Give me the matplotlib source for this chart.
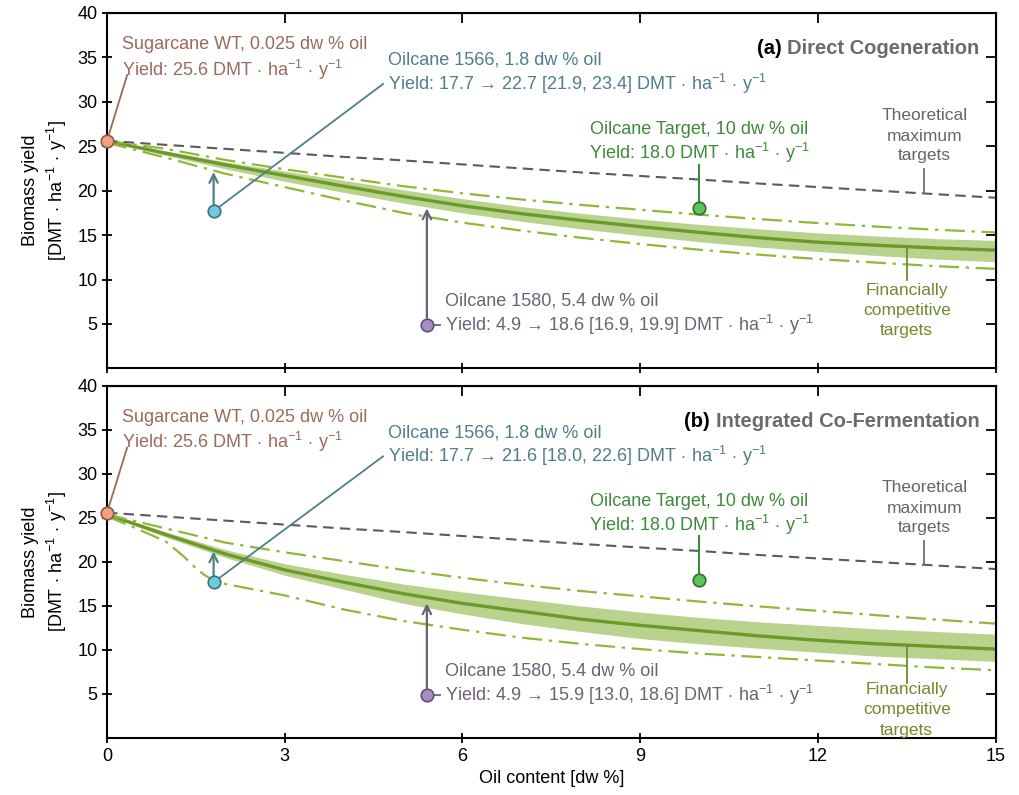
import matplotlib
matplotlib.use("Agg")
import matplotlib.pyplot as plt

plt.rcParams['font.family'] = ['Liberation Sans', 'DejaVu Sans']
plt.rcParams['mathtext.fontset'] = 'custom'
plt.rcParams['mathtext.rm'] = 'Liberation Sans'
plt.rcParams['mathtext.it'] = 'Liberation Sans:italic'
plt.rcParams['mathtext.bf'] = 'Liberation Sans:bold'

# oil content grid [dw %]
oil = [0, 1, 2, 3, 4, 5, 6, 7, 8, 9, 10, 11, 12, 13, 14, 15]

# theoretical maximum (same in both panels)
theo = [25.6, 25.15, 24.7, 24.25, 23.8, 23.4, 22.95, 22.5, 22.05, 21.65, 21.25, 20.8, 20.4, 20.0, 19.6, 19.2]

# (a) direct cogeneration
med_a = [25.6, 24.2, 22.9, 21.7, 20.5, 19.35, 18.3, 17.4, 16.65, 15.95, 15.3, 14.7, 14.2, 13.85, 13.55, 13.3]
band_lo_a = [25.5, 23.95, 22.45, 21.05, 19.8, 18.6, 17.5, 16.55, 15.7, 14.95, 14.25, 13.65, 13.15, 12.7, 12.3, 12.0]
band_hi_a = [25.6, 24.45, 23.25, 22.2, 21.15, 20.1, 19.1, 18.2, 17.45, 16.8, 16.2, 15.7, 15.25, 14.9, 14.6, 14.4]
up_a = [25.6, 24.7, 23.45, 22.4, 21.45, 20.5, 19.7, 19.0, 18.4, 17.85, 17.3, 16.8, 16.35, 15.95, 15.6, 15.3]
lo_a = [25.4, 23.7, 21.9, 20.4, 18.9, 17.5, 16.4, 15.5, 14.7, 14.0, 13.35, 12.8, 12.3, 11.9, 11.5, 11.2]

# (b) integrated co-fermentation
med_b = [25.4, 23.1, 20.9, 19.1, 17.7, 16.4, 15.3, 14.4, 13.5, 12.8, 12.2, 11.6, 11.1, 10.7, 10.4, 10.1]
band_lo_b = [25.3, 22.8, 20.5, 18.5, 16.9, 15.3, 14.1, 13.0, 12.1, 11.3, 10.7, 10.2, 9.75, 9.3, 9.0, 8.7]
band_hi_b = [25.5, 23.4, 21.4, 19.8, 18.6, 17.5, 16.6, 15.8, 15.0, 14.3, 13.7, 13.2, 12.8, 12.4, 12.1, 11.8]
up_b = [25.4, 23.8, 22.2, 21.1, 20.1, 19.1, 18.2, 17.4, 16.7, 16.1, 15.5, 14.95, 14.45, 13.95, 13.45, 13.0]
lo_b_x = [0, 0.5, 1, 1.3, 1.5, 1.65, 1.8, 2.0, 2.5, 3, 4, 5, 6, 7, 8, 9, 10, 11, 12, 13, 14, 15]
lo_b = [25.2, 23.8, 22.3, 20.6, 19.3, 18.5, 17.9, 17.5, 16.85, 16.2, 14.6, 13.3, 12.3, 11.4, 10.7, 10.1, 9.6, 9.2, 8.8, 8.4, 8.0, 7.7]

# points: sugarcane WT, oilcane 1566, oilcane target, oilcane 1580
pt_x = [0, 1.8, 10, 5.4]
pt_y = [25.6, 17.7, 18.0, 4.9]
arrow_top_a = [22.1, 18.0]   # 1566, 1580 improved yields (arrow tips)
arrow_top_b = [21.2, 15.3]

titles = ['Direct Cogeneration', 'Integrated Co-Fermentation']
letters = ['(a)', '(b)']
yield_1566 = ['17.7 \u2192 22.7 [21.9, 23.4]', '17.7 \u2192 21.6 [18.0, 22.6]']
yield_1580 = ['4.9 \u2192 18.6 [16.9, 19.9]', '4.9 \u2192 15.9 [13.0, 18.6]']
fin_label_y = [[8.8, 6.5, 4.3], [5.5, 3.2, 0.9]]
fin_line_bottom = [9.9, 6.3]

UNIT = r'DMT$\,\cdot\,$ha$^{-1}\,\cdot\,$y$^{-1}$'

C_MED = '#6b9a2b'
C_BAND = '#b9d38f'
C_DD = '#8fb83a'
C_THEO = '#5a5a60'
C_SUG = '#9a6a5c'
C_1566 = '#4f7f88'
C_TGT = '#3f8a3a'
C_1580 = '#6e6177'
C_FIN = '#6f8c2c'

fig = plt.figure(figsize=(10.19, 7.95), dpi=100)
ax_a = fig.add_axes([0.105, 0.5366, 0.872, 0.4472])
ax_b = fig.add_axes([0.105, 0.0717, 0.872, 0.4428])

panels = [(ax_a, med_a, band_lo_a, band_hi_a, up_a, oil, lo_a, arrow_top_a),
          (ax_b, med_b, band_lo_b, band_hi_b, up_b, lo_b_x, lo_b, arrow_top_b)]

fs = 13
for i, (ax, med, blo, bhi, up, lox, lo, tops) in enumerate(panels):
    ax.fill_between(oil, blo, bhi, color=C_BAND, lw=0, zorder=1)
    ax.plot(oil, med, color=C_MED, lw=2.4, zorder=2)
    ax.plot(oil, up, color=C_DD, lw=1.6, ls=(0, (9, 3, 1.5, 3)), zorder=2)
    ax.plot(lox, lo, color=C_DD, lw=1.6, ls=(0, (9, 3, 1.5, 3)), zorder=2)
    ax.plot(oil, theo, color=C_THEO, lw=1.5, ls=(0, (5, 3)), zorder=2)

    # improvement arrows
    ax.annotate('', xy=(pt_x[1], tops[0]), xytext=(pt_x[1], pt_y[1]),
                arrowprops=dict(arrowstyle='->', color=C_1566, lw=1.6,
                                shrinkA=5, shrinkB=0, mutation_scale=15), zorder=4)
    ax.annotate('', xy=(pt_x[3], tops[1]), xytext=(pt_x[3], pt_y[3]),
                arrowprops=dict(arrowstyle='->', color=C_1580, lw=1.6,
                                shrinkA=5, shrinkB=0, mutation_scale=15), zorder=4)

    # sugarcane WT
    ax.plot([pt_x[0], 0.34], [pt_y[0], 33.0], color=C_SUG, lw=1.3, zorder=3)
    ax.text(0.25, 36.4, 'Sugarcane WT, 0.025 dw % oil', color=C_SUG, fontsize=fs, va='center')
    ax.text(0.25, 33.6, 'Yield: 25.6 ' + UNIT, color=C_SUG, fontsize=fs, va='center')

    # oilcane 1566
    ax.plot([pt_x[1], 4.66], [pt_y[1], 32.0], color=C_1566, lw=1.3, zorder=3)
    ax.text(4.74, 34.7, 'Oilcane 1566, 1.8 dw % oil', color=C_1566, fontsize=fs, va='center')
    ax.text(4.74, 32.0, 'Yield: ' + yield_1566[i] + ' ' + UNIT, color=C_1566, fontsize=fs, va='center')

    # oilcane target
    ax.plot([pt_x[2], pt_x[2]], [pt_y[2], 22.9], color=C_TGT, lw=1.5, zorder=3)
    ax.text(pt_x[2], 26.9, 'Oilcane Target, 10 dw % oil', color=C_TGT, fontsize=fs, va='center', ha='center')
    ax.text(pt_x[2], 24.2, 'Yield: 18.0 ' + UNIT, color=C_TGT, fontsize=fs, va='center', ha='center')

    # oilcane 1580
    ax.plot([pt_x[3], 5.62], [pt_y[3], pt_y[3]], color=C_1580, lw=1.3, zorder=3)
    ax.text(5.7, 7.6, 'Oilcane 1580, 5.4 dw % oil', color=C_1580, fontsize=fs, va='center')
    ax.text(5.7, 4.9, 'Yield: ' + yield_1580[i] + ' ' + UNIT, color=C_1580, fontsize=fs, va='center')

    # theoretical maximum label
    ax.plot([13.8, 13.8], [19.7, 22.4], color='#707070', lw=1.3, zorder=3)
    for yy, s in zip([28.5, 26.1, 23.9], ['Theoretical', 'maximum', 'targets']):
        ax.text(13.8, yy, s, color='#666666', fontsize=12.5, ha='center', va='center')

    # financially competitive label
    med_135 = med[13] + (med[14] - med[13]) * 0.5
    ax.plot([13.5, 13.5], [med_135, fin_line_bottom[i]], color=C_FIN, lw=1.3, zorder=3)
    for yy, s in zip(fin_label_y[i], ['Financially', 'competitive', 'targets']):
        ax.text(13.5, yy, s, color=C_FIN, fontsize=12.5, ha='center', va='center')

    # markers
    fills = ['#f4a07c', '#6ccbdc', '#5cc45a', '#a88ec2']
    edges = ['#8a5a4a', '#3f7079', '#2f6e2f', '#5f5070']
    for px, py, fc, ec in zip(pt_x, pt_y, fills, edges):
        ax.plot(px, py, 'o', ms=9, mfc=fc, mec=ec, mew=1.2, zorder=5, clip_on=False)

    # title
    ax.text(0.982, 0.9, letters[i] + ' ', transform=ax.transAxes, ha='right', va='center',
            fontsize=14.5, fontweight='bold', color='black')
    t = ax.text(0.982, 0.9, titles[i], transform=ax.transAxes, ha='right', va='center',
                fontsize=14.5, fontweight='bold', color='#6b6b6b')
    fig.canvas.draw()
    bb = t.get_window_extent().transformed(ax.transAxes.inverted())
    ax.texts[-2].set_position((bb.x0, 0.9))

    ax.set_xlim(0, 15)
    ax.set_ylim(0, 40)
    ax.set_xticks([0, 3, 6, 9, 12, 15])
    ax.set_yticks([5, 10, 15, 20, 25, 30, 35, 40])
    ax.tick_params(axis='both', which='both', labelsize=13, length=7, width=1.3)
    ax.tick_params(axis='x', direction='inout')
    ax.tick_params(axis='y', direction='inout')
    for sp in ax.spines.values():
        sp.set_linewidth(1.5)
    ax.set_ylabel('Biomass yield\n[' + UNIT + ']', fontsize=13, linespacing=1.3, labelpad=6)

# top and right ticks point inward
for ax in (ax_a, ax_b):
    sec_x = ax.secondary_xaxis('top')
    sec_x.set_xticks([0, 3, 6, 9, 12, 15])
    sec_x.tick_params(direction='in', length=7, width=1.3, labeltop=False)
    sec_y = ax.secondary_yaxis('right')
    sec_y.set_yticks([5, 10, 15, 20, 25, 30, 35, 40])
    sec_y.tick_params(direction='in', length=7, width=1.3, labelright=False)

ax_a.tick_params(axis='x', labelbottom=False)
ax_b.set_xlabel('Oil content [dw %]', fontsize=13)

fig.savefig('out.png', dpi=100)
